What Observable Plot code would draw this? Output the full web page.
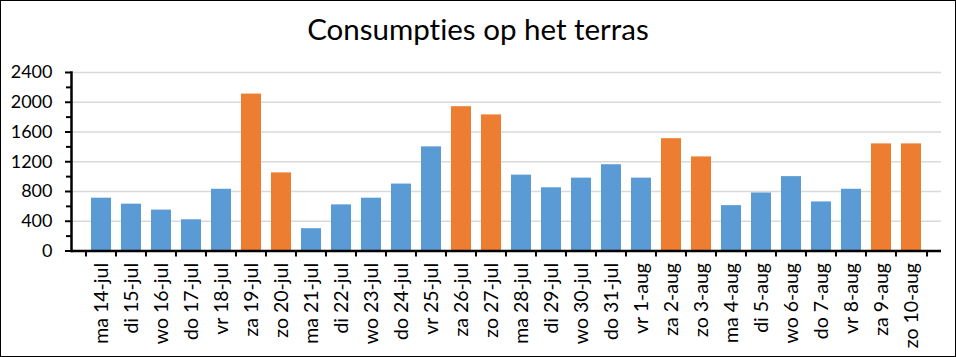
<!DOCTYPE html>
<html>
<head>
<meta charset="utf-8">
<script src="https://cdn.jsdelivr.net/npm/d3@7"></script>
<script src="https://cdn.jsdelivr.net/npm/@observablehq/plot@0.6"></script>
<style>
  html, body { margin: 0; padding: 0; background: #fff; }
  #wrap { position: relative; width: 956px; height: 357px; overflow: hidden; background: #fff; }
  #wrap svg { position: absolute; left: 0; top: 0; font-variant-ligatures: none; }
  #title { position: absolute; left: 0; top: 14px; width: 956px; text-align: center;
           font-family: Lato, "Open Sans", sans-serif; font-size: 29.5px; line-height: 29.5px; color: #000;
           font-variant-ligatures: none; }
  #border { position: absolute; left: 0; top: 0; width: 956px; height: 357px; box-sizing: border-box;
            border: 1px solid #000; pointer-events: none; }
</style>
</head>
<body>
<div id="wrap">
  <div id="title">Consumpties op het terras</div>
  <div id="chart"></div>
  <div id="border"></div>
</div>
<script>
const labels = ["ma 14-jul","di 15-jul","wo 16-jul","do 17-jul","vr 18-jul","za 19-jul","zo 20-jul",
  "ma 21-jul","di 22-jul","wo 23-jul","do 24-jul","vr 25-jul","za 26-jul","zo 27-jul",
  "ma 28-jul","di 29-jul","wo 30-jul","do 31-jul","vr 1-aug","za 2-aug","zo 3-aug",
  "ma 4-aug","di 5-aug","wo 6-aug","do 7-aug","vr 8-aug","za 9-aug","zo 10-aug"];
const values = [710, 630, 550, 420, 830, 2110, 1050,
  300, 620, 710, 900, 1400, 1940, 1830,
  1020, 850, 980, 1160, 980, 1510, 1265,
  610, 780, 1000, 660, 830, 1440, 1440];
const yTicks = [0, 400, 800, 1200, 1600, 2000, 2400];
const yMinorTicks = [200, 600, 1000, 1400, 1800, 2200];
const blue = "#5B9BD5", orange = "#ED7D31";

const data = labels.map((label, i) => ({label, value: values[i],
  kind: /^(za|zo) /.test(label) ? "weekend" : "weekday"}));

const W = 956, H = 357, mL = 71, mR = 15, mT = 72, mB = 106.5;
const band = (W - mL - mR) / labels.length;

const chart = Plot.plot({
  width: W, height: H,
  marginLeft: mL, marginRight: mR, marginTop: mT, marginBottom: mB,
  style: {fontFamily: "Lato, 'Open Sans', sans-serif", fontSize: "18px", color: "#000", background: "transparent", overflow: "visible"},
  x: {domain: labels, padding: 0.32, label: null},
  y: {domain: [0, 2400], label: null},
  color: {domain: ["weekday", "weekend"], range: [blue, orange]},
  marks: [
    Plot.gridY(yTicks, {stroke: "#D9D9D9", strokeOpacity: 1, strokeWidth: 1.3}),
    Plot.barY(data, {x: "label", y: "value", fill: "kind"}),
    Plot.axisY({ticks: yTicks, tickSize: 6, tickPadding: 13, strokeWidth: 2, label: null, fontSize: 18, tickFormat: d => String(d)}),
    Plot.axisY({ticks: yMinorTicks, tickSize: 5, tickFormat: () => "", strokeWidth: 2, label: null}),
    Plot.axisX({ticks: labels, tickSize: 6, tickFormat: () => "", dx: -band / 2, strokeWidth: 2, label: null}),
    Plot.axisX({ticks: [labels[labels.length - 1]], tickSize: 6, tickFormat: () => "", dx: band / 2, strokeWidth: 2, label: null}),
    Plot.axisX({ticks: labels, tickSize: 0, tickRotate: -90, tickPadding: 12, label: null, fontSize: 19.5}),
    Plot.ruleY([0], {stroke: "#000", strokeWidth: 2.5}),
    Plot.frame({anchor: "left", stroke: "#000", strokeWidth: 2.5})
  ]
});
document.getElementById("chart").appendChild(chart);
</script>
</body>
</html>
